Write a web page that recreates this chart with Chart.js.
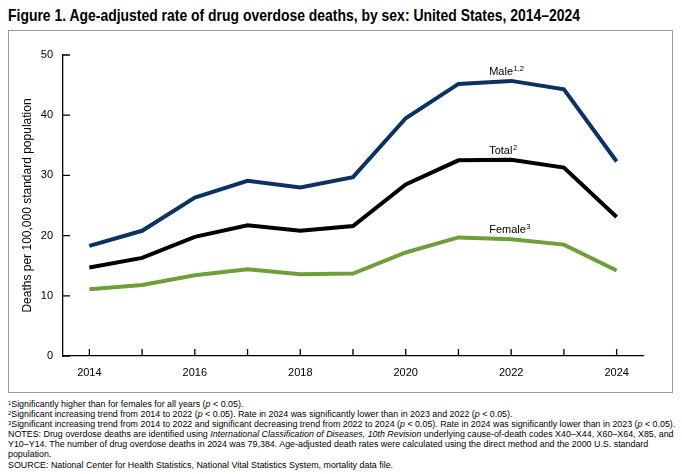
<!DOCTYPE html>
<html><head><meta charset="utf-8">
<script src="https://cdn.jsdelivr.net/npm/chart.js@4.4.1/dist/chart.umd.min.js"></script>
<style>
html,body{margin:0;padding:0;background:#fff;}
body{width:682px;height:474px;position:relative;overflow:hidden;font-family:"Liberation Sans",Arial,sans-serif;color:#000;}
#title{position:absolute;left:8px;top:6px;font-family:"Liberation Sans",Arial,sans-serif;font-weight:bold;font-size:16.5px;line-height:19px;white-space:nowrap;transform-origin:0 0;}
#frame{position:absolute;left:8px;top:30px;width:663px;height:361px;border:1px solid #9a9a9a;}
#frame canvas{position:absolute;left:0;top:0;}
#notes{position:absolute;left:8px;top:399px;font-size:8.9px;line-height:10.1px;white-space:nowrap;}
#notes sup{font-size:65%;vertical-align:top;position:relative;top:-1px;}
</style>
</head><body>
<div id="title">Figure 1. Age-adjusted rate of drug overdose deaths, by sex: United States, 2014–2024</div>
<div id="frame"><canvas id="c" width="663" height="361" style="width:663px;height:361px"></canvas></div>
<div id="notes">
<div><sup>1</sup>Significantly higher than for females for all years (<i>p</i> &lt; 0.05).</div>
<div><sup>2</sup>Significant increasing trend from 2014 to 2022 (<i>p</i> &lt; 0.05). Rate in 2024 was significantly lower than in 2023 and 2022 (<i>p</i> &lt; 0.05).</div>
<div><sup>3</sup>Significant increasing trend from 2014 to 2022 and significant decreasing trend from 2022 to 2024 (<i>p</i> &lt; 0.05). Rate in 2024 was significantly lower than in 2023 (<i>p</i> &lt; 0.05).</div>
<div>NOTES: Drug overdose deaths are identified using <i>International Classification of Diseases, 10th Revision</i> underlying cause-of-death codes X40–X44, X60–X64, X85, and</div>
<div>Y10–Y14. The number of drug overdose deaths in 2024 was 79,384. Age-adjusted death rates were calculated using the direct method and the 2000 U.S. standard</div>
<div>population.</div>
<div>SOURCE: National Center for Health Statistics, National Vital Statistics System, mortality data file.</div>
</div>
<script>
const years = ['2014','2015','2016','2017','2018','2019','2020','2021','2022','2023','2024'];
const yearLabels = ['2014','','2016','','2018','','2020','','2022','','2024'];
const male   = [18.3, 20.8, 26.3, 29.1, 28.0, 29.7, 39.5, 45.2, 45.7, 44.3, 32.3];
const total  = [14.7, 16.3, 19.8, 21.7, 20.8, 21.6, 28.5, 32.5, 32.6, 31.3, 23.1];
const female = [11.1, 11.8, 13.4, 14.4, 13.6, 13.7, 17.2, 19.7, 19.4, 18.5, 14.2];
const seriesNames = ['Male', 'Total', 'Female'];
const seriesSup = ['1,2', '2', '3'];
const yTicks = [0, 10, 20, 30, 40, 50];
const labelYear = '2022';
const yTitle = 'Deaths per 100,000 standard population';

const FONT = '"Liberation Sans", Arial, sans-serif';

// condense the title to the reference width (Arial Narrow look)
(function () {
  const t = document.getElementById('title');
  const w = t.getBoundingClientRect().width;
  t.style.transform = 'scaleX(' + (572 / w) + ')';
})();

const innerTicks = {
  id: 'innerTicks',
  afterDraw(chart) {
    const ctx = chart.ctx, xs = chart.scales.x, ys = chart.scales.y;
    ctx.save();
    ctx.strokeStyle = '#000';
    ctx.lineWidth = 1.3;
    ctx.beginPath();
    xs.ticks.forEach((t, i) => {
      const px = xs.getPixelForTick(i);
      ctx.moveTo(px, xs.top); ctx.lineTo(px, xs.top - 7);
    });
    ys.ticks.forEach((t, i) => {
      const py = ys.getPixelForTick(i);
      ctx.moveTo(ys.right, py); ctx.lineTo(ys.right + 7, py);
    });
    ctx.stroke();
    ctx.restore();
  }
};

const lineLabels = {
  id: 'lineLabels',
  afterDatasetsDraw(chart) {
    const ctx = chart.ctx;
    const idx = years.indexOf(labelYear);
    ctx.save();
    ctx.fillStyle = '#000';
    ctx.textBaseline = 'alphabetic';
    ctx.textAlign = 'left';
    chart.data.datasets.forEach((ds, i) => {
      const pt = chart.getDatasetMeta(i).data[idx];
      const x = pt.x - 22, y = pt.y - 6;
      ctx.font = '11px ' + FONT;
      ctx.fillText(seriesNames[i], x, y);
      const w = ctx.measureText(seriesNames[i]).width;
      ctx.font = '7.5px ' + FONT;
      ctx.fillText(seriesSup[i], x + w + 0.5, y - 4);
    });
    ctx.restore();
  }
};

new Chart(document.getElementById('c'), {
  type: 'line',
  data: {
    labels: years,
    datasets: [
      { label: seriesNames[0], data: male,   borderColor: '#0c3262', borderWidth: 4 },
      { label: seriesNames[1], data: total,  borderColor: '#000000', borderWidth: 4 },
      { label: seriesNames[2], data: female, borderColor: '#6e9f38', borderWidth: 4 }
    ]
  },
  options: {
    responsive: false,
    animation: false,
    devicePixelRatio: 1,
    layout: { padding: { top: 24, right: 29, left: 0, bottom: 0 } },
    elements: { point: { radius: 0 }, line: { tension: 0, borderJoinStyle: 'miter', borderCapStyle: 'butt' } },
    plugins: { legend: { display: false }, tooltip: { enabled: false } },
    scales: {
      x: {
        offset: true,
        grid: { display: true, drawOnChartArea: false, drawTicks: false },
        border: { display: true, color: '#000', width: 1.3 },
        ticks: {
          autoSkip: false, maxRotation: 0, padding: 10, color: '#000',
          font: { family: FONT, size: 11 },
          callback: (v, i) => yearLabels[i]
        },
        afterFit: s => { s.height = 36; }
      },
      y: {
        min: yTicks[0], max: yTicks[yTicks.length - 1],
        afterBuildTicks: s => { s.ticks = yTicks.map(v => ({ value: v })); },
        grid: { display: true, drawOnChartArea: false, drawTicks: false },
        border: { display: true, color: '#000', width: 1.3 },
        ticks: { padding: 10, color: '#000', font: { family: FONT, size: 11 } },
        title: { display: true, text: yTitle, color: '#000', font: { family: FONT, size: 12 }, padding: { top: 11, bottom: 0 } },
        afterFit: s => { s.width = 54; }
      }
    }
  },
  plugins: [innerTicks, lineLabels]
});
</script>
</body></html>
